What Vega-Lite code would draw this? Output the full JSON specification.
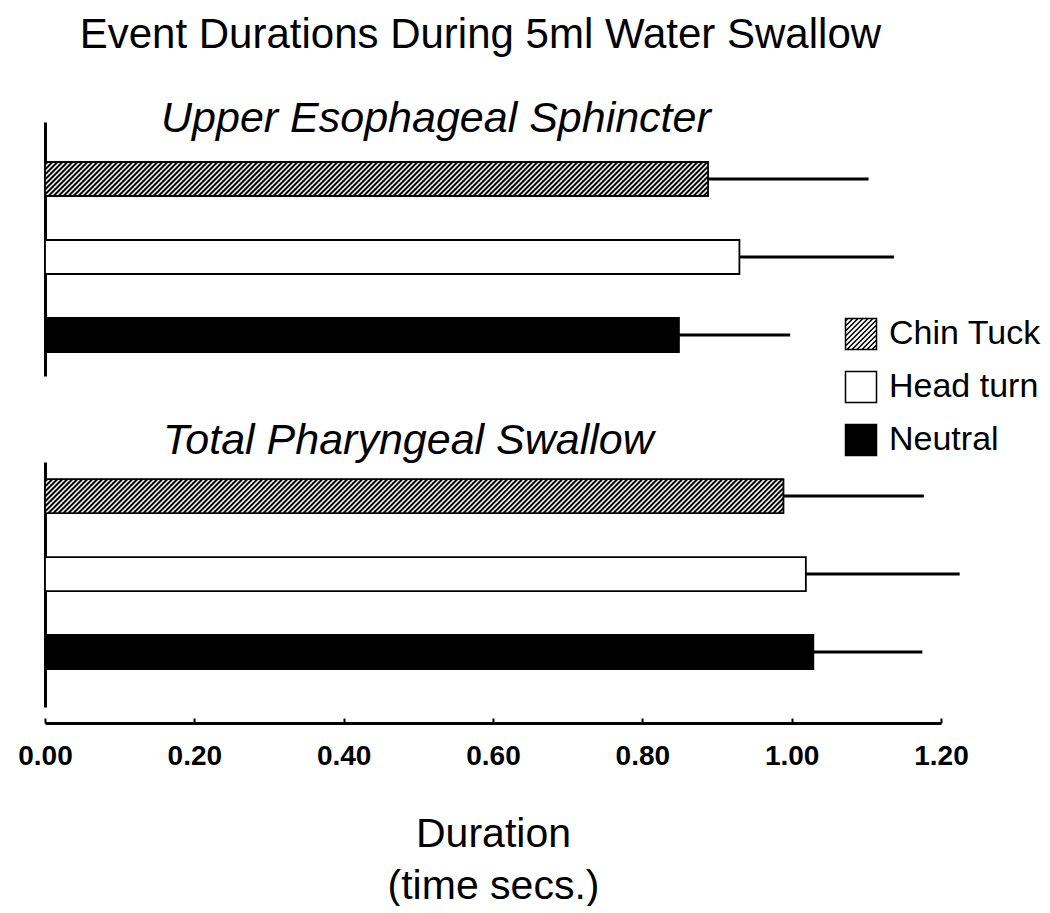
{
  "$schema": "https://vega.github.io/schema/vega-lite/v6.json",
  "background": "white",
  "padding": {"left": 17, "top": 14, "right": 0, "bottom": 0},
  "config": {"view": {"stroke": null}, "font": "Liberation Sans"},
  "title": {"text": "Event Durations During 5ml Water Swallow", "fontSize": 42, "fontWeight": "normal", "font": "Liberation Sans", "color": "black", "anchor": "middle", "dx": -49, "baseline": "alphabetic", "offset": 8},
  "data": {"values": [
    {"panel": "Upper Esophageal Sphincter", "condition": "Chin Tuck", "mean": 0.888, "upper": 1.103},
    {"panel": "Upper Esophageal Sphincter", "condition": "Head turn", "mean": 0.930, "upper": 1.137},
    {"panel": "Upper Esophageal Sphincter", "condition": "Neutral", "mean": 0.849, "upper": 0.998},
    {"panel": "Total Pharyngeal Swallow", "condition": "Chin Tuck", "mean": 0.989, "upper": 1.177},
    {"panel": "Total Pharyngeal Swallow", "condition": "Head turn", "mean": 1.019, "upper": 1.225},
    {"panel": "Total Pharyngeal Swallow", "condition": "Neutral", "mean": 1.029, "upper": 1.175}
  ]},
  "spacing": 44,
  "resolve": {"scale": {"x": "independent", "y": "independent", "fill": "shared"}, "legend": {"fill": "shared"}},
  "vconcat": [
    {
      "width": 896,
      "height": 254,
      "title": {"text": "Upper Esophageal Sphincter", "fontSize": 43, "fontStyle": "italic", "fontWeight": "normal", "font": "Liberation Sans", "color": "black", "anchor": "start", "frame": "group", "dx": 116, "baseline": "alphabetic", "offset": -53},
      "transform": [{"filter": "datum.panel === 'Upper Esophageal Sphincter'"}],
      "encoding": {
        "y": {"field": "condition", "type": "nominal", "scale": {"domain": ["Chin Tuck", "Head turn", "Neutral"], "paddingInner": 0.564, "paddingOuter": 0.41, "align": 0.625}, "axis": {"domain": true, "domainColor": "black", "domainWidth": 3, "labels": false, "ticks": false, "title": null, "grid": false}},
        "x": {"field": "mean", "type": "quantitative", "scale": {"domain": [0, 1.2]}, "axis": null}
      },
      "layer": [
        {"mark": {"type": "rule", "color": "black", "strokeWidth": 3}, "encoding": {"x2": {"field": "upper"}}},
        {"mark": {"type": "bar", "stroke": "black", "strokeWidth": 1.8}, "encoding": {"fill": {"field": "condition", "type": "nominal", "scale": {"domain": ["Chin Tuck", "Head turn", "Neutral"], "range": ["white", "white", "black"]},
          "legend": {"orient": "none", "legendX": 799, "legendY": 195, "title": null, "padding": 0, "symbolType": "square", "symbolSize": 961, "symbolStrokeColor": "black", "symbolStrokeWidth": 1.5, "symbolOpacity": 1,
            "labelFont": "Liberation Sans", "labelFontSize": 34, "labelColor": "black", "labelOffset": 11, "rowPadding": 15,
            "encode": {"symbols": {"update": {"shape": [{"test": "datum.value === 'Chin Tuck'", "value": "M-1 -1L1 -1L1 1L-1 1ZM-1 -0.839L-0.839 -1M-1 -0.516L-0.516 -1M-1 -0.194L-0.194 -1M-1 0.129L0.129 -1M-1 0.452L0.452 -1M-1 0.774L0.774 -1M-0.903 1L1 -0.903M-0.581 1L1 -0.581M-0.258 1L1 -0.258M0.065 1L1 0.065M0.387 1L1 0.387M0.71 1L1 0.71"}, {"value": "square"}]}}}}}}},
        {"transform": [{"filter": "datum.condition === 'Chin Tuck'"}],
         "mark": {"type": "point", "size": 4, "filled": false, "stroke": "black", "strokeWidth": 2, "opacity": 1,
           "shape": "M0 -14.5L2.5 -17M0 -9.5L7.5 -17M0 -4.5L12.5 -17M0 0.5L17.5 -17M0 5.5L22.5 -17M0 10.5L27.5 -17M0 15.5L32.5 -17M3.5 17l34 -34m-29 34l34 -34m-29 34l34 -34m-29 34l34 -34m-29 34l34 -34m-29 34l34 -34m-29 34l34 -34m-29 34l34 -34m-29 34l34 -34m-29 34l34 -34m-29 34l34 -34m-29 34l34 -34m-29 34l34 -34m-29 34l34 -34m-29 34l34 -34m-29 34l34 -34m-29 34l34 -34m-29 34l34 -34m-29 34l34 -34m-29 34l34 -34m-29 34l34 -34m-29 34l34 -34m-29 34l34 -34m-29 34l34 -34m-29 34l34 -34m-29 34l34 -34M128.5 17l34 -34m-29 34l34 -34m-29 34l34 -34m-29 34l34 -34m-29 34l34 -34m-29 34l34 -34m-29 34l34 -34m-29 34l34 -34m-29 34l34 -34m-29 34l34 -34m-29 34l34 -34m-29 34l34 -34m-29 34l34 -34m-29 34l34 -34m-29 34l34 -34m-29 34l34 -34m-29 34l34 -34m-29 34l34 -34m-29 34l34 -34m-29 34l34 -34m-29 34l34 -34m-29 34l34 -34m-29 34l34 -34m-29 34l34 -34m-29 34l34 -34m-29 34l34 -34M253.5 17l34 -34m-29 34l34 -34m-29 34l34 -34m-29 34l34 -34m-29 34l34 -34m-29 34l34 -34m-29 34l34 -34m-29 34l34 -34m-29 34l34 -34m-29 34l34 -34m-29 34l34 -34m-29 34l34 -34m-29 34l34 -34m-29 34l34 -34m-29 34l34 -34m-29 34l34 -34m-29 34l34 -34m-29 34l34 -34m-29 34l34 -34m-29 34l34 -34m-29 34l34 -34m-29 34l34 -34m-29 34l34 -34m-29 34l34 -34m-29 34l34 -34m-29 34l34 -34M378.5 17l34 -34m-29 34l34 -34m-29 34l34 -34m-29 34l34 -34m-29 34l34 -34m-29 34l34 -34m-29 34l34 -34m-29 34l34 -34m-29 34l34 -34m-29 34l34 -34m-29 34l34 -34m-29 34l34 -34m-29 34l34 -34m-29 34l34 -34m-29 34l34 -34m-29 34l34 -34m-29 34l34 -34m-29 34l34 -34m-29 34l34 -34m-29 34l34 -34m-29 34l34 -34m-29 34l34 -34m-29 34l34 -34m-29 34l34 -34m-29 34l34 -34m-29 34l34 -34M503.5 17l34 -34m-29 34l34 -34m-29 34l34 -34m-29 34l34 -34m-29 34l34 -34m-29 34l34 -34m-29 34l34 -34m-29 34l34 -34m-29 34l34 -34m-29 34l34 -34m-29 34l34 -34m-29 34l34 -34m-29 34l34 -34m-29 34l34 -34m-29 34l34 -34m-29 34l34 -34m-29 34l34 -34m-29 34l34 -34m-29 34l34 -34m-29 34l34 -34m-29 34l34 -34m-29 34l34 -34m-29 34l34 -34m-29 34l34 -34m-29 34l34 -34m-29 34l34 -34M628.5 17l34 -34M633.5 17L663 -12.5M638.5 17L663 -7.5M643.5 17L663 -2.5M648.5 17L663 2.5M653.5 17L663 7.5M658.5 17L663 12.5"},
         "encoding": {"x": {"datum": 0, "type": "quantitative"}}}
      ]
    },
    {
      "width": 896,
      "height": 245,
      "title": {"text": "Total Pharyngeal Swallow", "fontSize": 43, "fontStyle": "italic", "fontWeight": "normal", "font": "Liberation Sans", "color": "black", "anchor": "start", "frame": "group", "dx": 118, "baseline": "alphabetic", "offset": -35},
      "transform": [{"filter": "datum.panel === 'Total Pharyngeal Swallow'"}],
      "encoding": {
        "y": {"field": "condition", "type": "nominal", "scale": {"domain": ["Chin Tuck", "Head turn", "Neutral"], "paddingInner": 0.564, "paddingOuter": 0.353, "align": 0.31}, "axis": {"domain": true, "domainColor": "black", "domainWidth": 3, "labels": false, "ticks": false, "title": null, "grid": false}},
        "x": {"field": "mean", "type": "quantitative", "scale": {"domain": [0, 1.2]},
          "axis": {"values": [0, 0.2, 0.4, 0.6, 0.8, 1.0, 1.2], "format": ".2f", "grid": false, "offset": 16, "labelFlush": false,
            "domainColor": "black", "domainWidth": 3, "tickColor": "black", "tickWidth": 2, "tickSize": -5,
            "labelFont": "Liberation Sans", "labelFontWeight": "bold", "labelFontSize": 28, "labelColor": "black", "labelPadding": 24,
            "title": ["Duration", "(time secs.)"], "titleFont": "Liberation Sans", "titleFontSize": 41, "titleFontWeight": "normal", "titleColor": "black", "titlePadding": 44, "titleLineHeight": 52}}
      },
      "layer": [
        {"mark": {"type": "rule", "color": "black", "strokeWidth": 3}, "encoding": {"x2": {"field": "upper"}}},
        {"mark": {"type": "bar", "stroke": "black", "strokeWidth": 1.8}, "encoding": {"fill": {"field": "condition", "type": "nominal", "scale": {"domain": ["Chin Tuck", "Head turn", "Neutral"], "range": ["white", "white", "black"]},
          "legend": {"orient": "none", "legendX": 799, "legendY": 195, "title": null, "padding": 0, "symbolType": "square", "symbolSize": 961, "symbolStrokeColor": "black", "symbolStrokeWidth": 1.5, "symbolOpacity": 1,
            "labelFont": "Liberation Sans", "labelFontSize": 34, "labelColor": "black", "labelOffset": 11, "rowPadding": 15,
            "encode": {"symbols": {"update": {"shape": [{"test": "datum.value === 'Chin Tuck'", "value": "M-1 -1L1 -1L1 1L-1 1ZM-1 -0.839L-0.839 -1M-1 -0.516L-0.516 -1M-1 -0.194L-0.194 -1M-1 0.129L0.129 -1M-1 0.452L0.452 -1M-1 0.774L0.774 -1M-0.903 1L1 -0.903M-0.581 1L1 -0.581M-0.258 1L1 -0.258M0.065 1L1 0.065M0.387 1L1 0.387M0.71 1L1 0.71"}, {"value": "square"}]}}}}}}},
        {"transform": [{"filter": "datum.condition === 'Chin Tuck'"}],
         "mark": {"type": "point", "size": 4, "filled": false, "stroke": "black", "strokeWidth": 2, "opacity": 1,
           "shape": "M0 -14.5L2.5 -17M0 -9.5L7.5 -17M0 -4.5L12.5 -17M0 0.5L17.5 -17M0 5.5L22.5 -17M0 10.5L27.5 -17M0 15.5L32.5 -17M3.5 17l34 -34m-29 34l34 -34m-29 34l34 -34m-29 34l34 -34m-29 34l34 -34m-29 34l34 -34m-29 34l34 -34m-29 34l34 -34m-29 34l34 -34m-29 34l34 -34m-29 34l34 -34m-29 34l34 -34m-29 34l34 -34m-29 34l34 -34m-29 34l34 -34m-29 34l34 -34m-29 34l34 -34m-29 34l34 -34m-29 34l34 -34m-29 34l34 -34m-29 34l34 -34m-29 34l34 -34m-29 34l34 -34m-29 34l34 -34m-29 34l34 -34m-29 34l34 -34M128.5 17l34 -34m-29 34l34 -34m-29 34l34 -34m-29 34l34 -34m-29 34l34 -34m-29 34l34 -34m-29 34l34 -34m-29 34l34 -34m-29 34l34 -34m-29 34l34 -34m-29 34l34 -34m-29 34l34 -34m-29 34l34 -34m-29 34l34 -34m-29 34l34 -34m-29 34l34 -34m-29 34l34 -34m-29 34l34 -34m-29 34l34 -34m-29 34l34 -34m-29 34l34 -34m-29 34l34 -34m-29 34l34 -34m-29 34l34 -34m-29 34l34 -34m-29 34l34 -34M253.5 17l34 -34m-29 34l34 -34m-29 34l34 -34m-29 34l34 -34m-29 34l34 -34m-29 34l34 -34m-29 34l34 -34m-29 34l34 -34m-29 34l34 -34m-29 34l34 -34m-29 34l34 -34m-29 34l34 -34m-29 34l34 -34m-29 34l34 -34m-29 34l34 -34m-29 34l34 -34m-29 34l34 -34m-29 34l34 -34m-29 34l34 -34m-29 34l34 -34m-29 34l34 -34m-29 34l34 -34m-29 34l34 -34m-29 34l34 -34m-29 34l34 -34m-29 34l34 -34M378.5 17l34 -34m-29 34l34 -34m-29 34l34 -34m-29 34l34 -34m-29 34l34 -34m-29 34l34 -34m-29 34l34 -34m-29 34l34 -34m-29 34l34 -34m-29 34l34 -34m-29 34l34 -34m-29 34l34 -34m-29 34l34 -34m-29 34l34 -34m-29 34l34 -34m-29 34l34 -34m-29 34l34 -34m-29 34l34 -34m-29 34l34 -34m-29 34l34 -34m-29 34l34 -34m-29 34l34 -34m-29 34l34 -34m-29 34l34 -34m-29 34l34 -34m-29 34l34 -34M503.5 17l34 -34m-29 34l34 -34m-29 34l34 -34m-29 34l34 -34m-29 34l34 -34m-29 34l34 -34m-29 34l34 -34m-29 34l34 -34m-29 34l34 -34m-29 34l34 -34m-29 34l34 -34m-29 34l34 -34m-29 34l34 -34m-29 34l34 -34m-29 34l34 -34m-29 34l34 -34m-29 34l34 -34m-29 34l34 -34m-29 34l34 -34m-29 34l34 -34m-29 34l34 -34m-29 34l34 -34m-29 34l34 -34m-29 34l34 -34m-29 34l34 -34m-29 34l34 -34M628.5 17l34 -34m-29 34l34 -34m-29 34l34 -34m-29 34l34 -34m-29 34l34 -34m-29 34l34 -34m-29 34l34 -34m-29 34l34 -34m-29 34l34 -34m-29 34l34 -34m-29 34l34 -34m-29 34l34 -34m-29 34l34 -34m-29 34l34 -34m-29 34l34 -34m-29 34l34 -34M708.5 17L738.5 -13M713.5 17L738.5 -8M718.5 17L738.5 -3M723.5 17L738.5 2M728.5 17L738.5 7M733.5 17L738.5 12"},
         "encoding": {"x": {"datum": 0, "type": "quantitative"}}}
      ]
    }
  ]
}
